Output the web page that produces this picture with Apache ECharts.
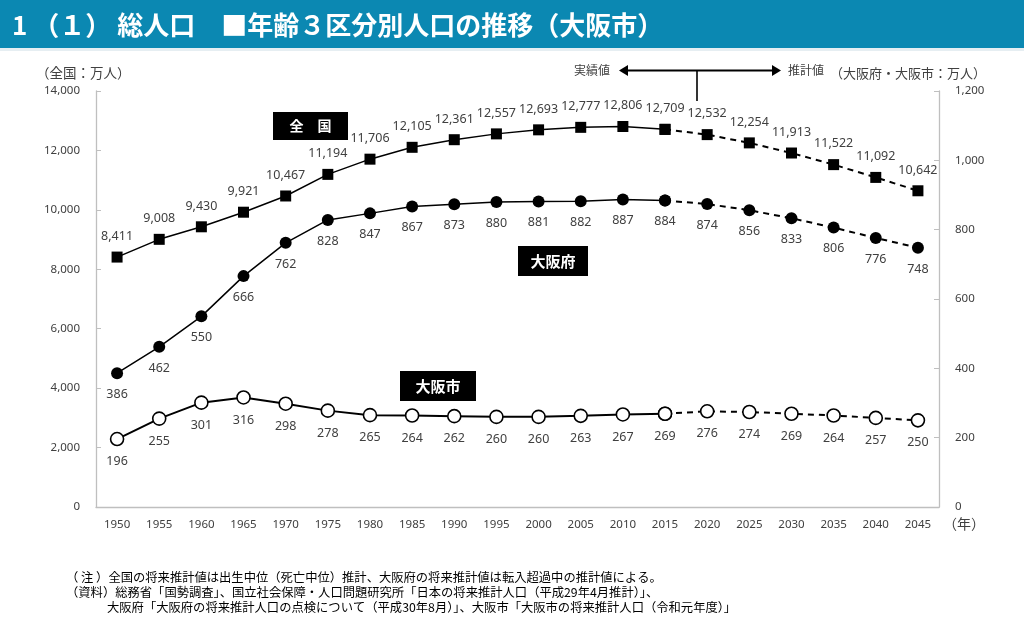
<!DOCTYPE html>
<html><head><meta charset="utf-8">
<script src="https://cdn.jsdelivr.net/npm/echarts@6/dist/echarts.min.js"></script>
<style>html,body{margin:0;padding:0;background:#fff}#c{width:1024px;height:624px}</style>
</head><body><div id="c"></div>
<script>
const years = ['1950','1955','1960','1965','1970','1975','1980','1985','1990','1995','2000','2005','2010','2015','2020','2025','2030','2035','2040','2045'];
const national = [8411,9008,9430,9921,10467,11194,11706,12105,12361,12557,12693,12777,12806,12709,12532,12254,11913,11522,11092,10642];
const osakaPref = [386,462,550,666,762,828,847,867,873,880,881,882,887,884,874,856,833,806,776,748];
const osakaCity = [196,255,301,316,298,278,265,264,262,260,260,263,267,269,276,274,269,264,257,250];
const leftTicks = {min:0, max:14000, interval:2000};
const rightTicks = {min:0, max:1200, interval:200};
const lastActual = 13; // index of 2015

const FONT = '"Noto Sans", "Noto Sans CJK JP", sans-serif';
const JFONT = '"Noto Sans CJK JP", sans-serif';
const TXT = '#404040';

function actual(arr){ return arr.map((v,i)=> i<=lastActual ? v : null); }
function projected(arr){ return arr.map((v,i)=> i<lastActual ? null : (i===lastActual ? {value:v,label:{show:false}} : v)); }
const fmt = p => Number(p.value).toLocaleString('en-US');

function mk(name, data, yIdx, dashed, symbol, size, fill, lblPos, lineW){
  return {
    name, type:'line', yAxisIndex:yIdx, data, connectNulls:false,
    symbol, symbolSize:size, showAllSymbol:true, z: dashed?2:3,
    itemStyle:{color:fill, borderColor:'#000', borderWidth: fill==='#fff'?1.6:0},
    lineStyle:{color:'#000', width:lineW, type: dashed?[6,5]:'solid'},
    label:{show:true, position:lblPos, distance:9, formatter:fmt, color:TXT, fontSize:12.5, fontFamily:FONT},
    emphasis:{disabled:true}, animation:false
  };
}

const chart = echarts.init(document.getElementById('c'));
chart.setOption({
  animation:false,
  grid:{left:96, right:85, top:91, bottom:117, containLabel:false},
  xAxis:{type:'category', data:years, boundaryGap:true,
    axisLine:{lineStyle:{color:'#BFBFBF', width:1.3}},
    axisTick:{inside:true, length:5, interval:0, lineStyle:{color:'#BFBFBF'}},
    axisLabel:{color:TXT, fontSize:11.5, fontFamily:FONT, margin:12, interval:0}},
  yAxis:[
    {type:'value', min:leftTicks.min, max:leftTicks.max, interval:leftTicks.interval,
      axisLine:{show:true, lineStyle:{color:'#BFBFBF', width:1.3}},
      axisTick:{show:true, inside:true, length:5, lineStyle:{color:'#BFBFBF'}},
      splitLine:{show:false},
      axisLabel:{color:TXT, fontSize:11.5, fontFamily:FONT, margin:16, formatter:v=>v.toLocaleString('en-US')}},
    {type:'value', min:rightTicks.min, max:rightTicks.max, interval:rightTicks.interval, position:'right',
      axisLine:{show:true, lineStyle:{color:'#BFBFBF', width:1.3}},
      axisTick:{show:true, inside:true, length:5, lineStyle:{color:'#BFBFBF'}},
      splitLine:{show:false},
      axisLabel:{color:TXT, fontSize:11.5, fontFamily:FONT, margin:16, formatter:v=>v.toLocaleString('en-US')}}
  ],
  series:[
    mk('全国', actual(national), 0, false, 'rect', 11, '#000', 'top', 1.5),
    mk('全国推計', projected(national), 0, true, 'rect', 11, '#000', 'top', 2),
    mk('大阪府', actual(osakaPref), 1, false, 'circle', 12, '#000', 'bottom', 1.5),
    mk('大阪府推計', projected(osakaPref), 1, true, 'circle', 12, '#000', 'bottom', 2),
    mk('大阪市', actual(osakaCity), 1, false, 'circle', 13, '#fff', 'bottom', 2),
    mk('大阪市推計', projected(osakaCity), 1, true, 'circle', 13, '#fff', 'bottom', 2)
  ],
  graphic:[
    {type:'rect', left:0, top:0, shape:{width:1024, height:48}, style:{fill:'#0B88B2'}, z:10},
    {type:'rect', left:0, top:48, shape:{width:1024, height:3}, style:{fill:'#E6EEF2'}, z:10},
    {type:'text', x:12, y:25, style:{text:'1 （１） 総人口　■年齢３区分別人口の推移（大阪市）', fill:'#fff', font:'bold 26px '+JFONT, verticalAlign:'middle'}, z:11},
    {type:'text', x:36, y:73, style:{text:'（全国：万人）', fill:TXT, font:'13.5px '+JFONT, verticalAlign:'middle'}},
    {type:'text', x:830, y:73, style:{text:'（大阪府・大阪市：万人）', fill:TXT, font:'13px '+JFONT, verticalAlign:'middle'}},
    {type:'text', x:943, y:524, style:{text:'（年）', fill:TXT, font:'14px '+JFONT, verticalAlign:'middle'}},
    {type:'text', x:574, y:70, style:{text:'実績値', fill:TXT, font:'12px '+JFONT, verticalAlign:'middle'}},
    {type:'text', x:788, y:70, style:{text:'推計値', fill:TXT, font:'12px '+JFONT, verticalAlign:'middle'}},
    {type:'line', shape:{x1:626, y1:70.5, x2:774, y2:70.5}, style:{stroke:'#000', lineWidth:2}},
    {type:'polygon', shape:{points:[[619,70.5],[628,65],[628,76]]}, style:{fill:'#000'}},
    {type:'polygon', shape:{points:[[781,70.5],[772,65],[772,76]]}, style:{fill:'#000'}},
    {type:'line', shape:{x1:697, y1:70.5, x2:697, y2:101}, style:{stroke:'#000', lineWidth:1.6}},
    {type:'rect', left:273, top:112, shape:{width:75, height:28}, style:{fill:'#000'}},
    {type:'text', x:310.5, y:126, style:{text:'全　国', fill:'#fff', font:'bold 14px '+JFONT, align:'center', verticalAlign:'middle'}},
    {type:'rect', left:518, top:246, shape:{width:70, height:30}, style:{fill:'#000'}},
    {type:'text', x:553, y:261, style:{text:'大阪府', fill:'#fff', font:'bold 15px '+JFONT, align:'center', verticalAlign:'middle'}},
    {type:'rect', left:400, top:371, shape:{width:76, height:30}, style:{fill:'#000'}},
    {type:'text', x:438, y:386, style:{text:'大阪市', fill:'#fff', font:'bold 15px '+JFONT, align:'center', verticalAlign:'middle'}},
    {type:'text', x:66, y:577, style:{text:'（ 注 ）全国の将来推計値は出生中位（死亡中位）推計、大阪府の将来推計値は転入超過中の推計値による。', fill:'#000', font:'12.3px '+JFONT, verticalAlign:'middle'}},
    {type:'text', x:66, y:592, style:{text:'（資料）総務省「国勢調査」、国立社会保障・人口問題研究所「日本の将来推計人口（平成29年4月推計）」、', fill:'#000', font:'12.3px '+JFONT, verticalAlign:'middle'}},
    {type:'text', x:107, y:607, style:{text:'大阪府「大阪府の将来推計人口の点検について（平成30年8月）」、大阪市「大阪市の将来推計人口（令和元年度）」', fill:'#000', font:'12.3px '+JFONT, verticalAlign:'middle'}}
  ]
});
</script></body></html>
